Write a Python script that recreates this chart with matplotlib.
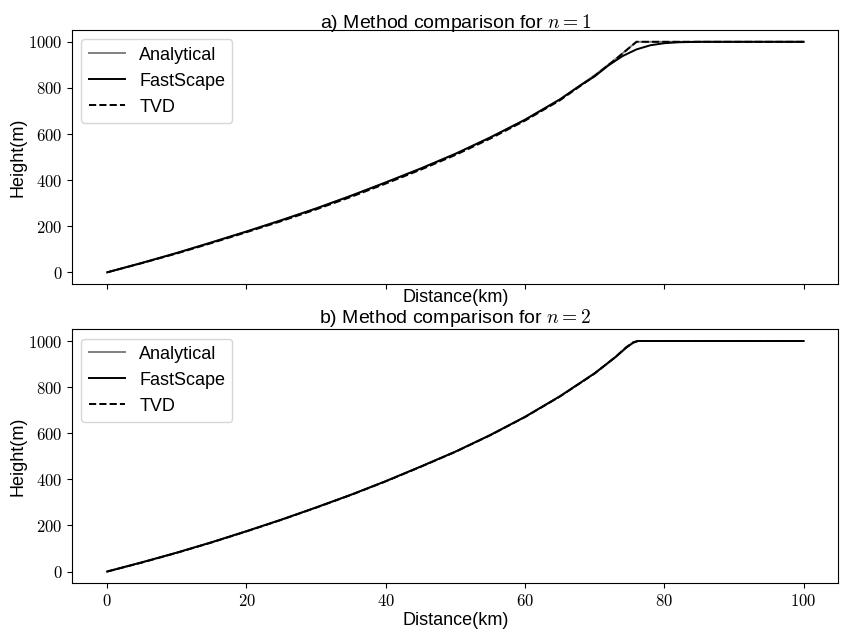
import matplotlib
matplotlib.use("Agg")
import matplotlib.pyplot as plt
from matplotlib.ticker import FuncFormatter

plt.rcParams['font.family'] = ['Liberation Sans', 'DejaVu Sans']
plt.rcParams['mathtext.fontset'] = 'cm'

# distance along profile (km)
dist = [0, 5, 10, 15, 20, 25, 30, 35, 40, 45, 50, 55, 60, 65, 70, 73, 76, 80, 85, 90, 95, 100]

# n = 1
ana_1 = [0, 41, 84, 130, 177, 226, 277, 332, 390, 450, 514, 585, 662, 750, 855, 925, 1000, 1000, 1000, 1000, 1000, 1000]
tvd_1 = [0, 40, 82, 127, 174, 222, 273, 327, 385, 445, 509, 580, 658, 746, 852, 924, 1000, 1000, 1000, 1000, 1000, 1000]
dist_fs = [0, 5, 10, 15, 20, 25, 30, 35, 40, 45, 50, 55, 60, 65, 68, 70, 72, 74, 76, 78, 80, 82, 85, 90, 95, 100]
fs_1 = [0, 41, 84, 130, 177, 226, 277, 332, 390, 450, 514, 585, 662, 750, 812, 850, 898, 938, 967, 985, 994, 998, 1000, 1000, 1000, 1000]

# n = 2
dist_2 = [0, 5, 10, 15, 20, 25, 30, 35, 40, 45, 50, 55, 60, 65, 70, 73, 74.5, 75.5, 76.2, 80, 85, 90, 95, 100]
ana_2 = [0, 40, 82, 127, 175, 225, 278, 333, 392, 455, 520, 592, 671, 760, 860, 932, 972, 993, 1000, 1000, 1000, 1000, 1000, 1000]
fs_2 = [0, 40, 82, 127, 175, 225, 278, 333, 392, 455, 520, 592, 671, 760, 860, 930, 970, 992, 1000, 1000, 1000, 1000, 1000, 1000]
tvd_2 = [0, 39, 81, 126, 174, 224, 277, 332, 391, 454, 519, 591, 670, 759, 859, 931, 972, 994, 1000, 1000, 1000, 1000, 1000, 1000]

fig, (ax1, ax2) = plt.subplots(2, 1, sharex=True, figsize=(8.52, 6.31), dpi=100)
fig.subplots_adjust(left=0.085, right=0.984, top=0.952, bottom=0.076, hspace=0.18)

mathfmt = FuncFormatter(lambda v, p: r"$%g$" % v)

panels = [
    (ax1, dist, ana_1, dist_fs, fs_1, dist, tvd_1, "a) Method comparison for $n=1$"),
    (ax2, dist_2, ana_2, dist_2, fs_2, dist_2, tvd_2, "b) Method comparison for $n=2$"),
]
for ax, xa, ya, xf, yf, xt, yt, title in panels:
    ax.plot(xa, ya, color="grey", lw=1.4, label="Analytical")
    ax.plot(xf, yf, color="black", lw=1.4, label="FastScape")
    ax.plot(xt, yt, color="black", lw=1.4, ls="--", label="TVD")
    ax.set_title(title, fontsize=14, pad=2)
    ax.set_ylabel("Height(m)", fontsize=13, labelpad=1)
    ax.legend(loc="upper left", fontsize=13)
    ax.xaxis.set_major_formatter(mathfmt)
    ax.yaxis.set_major_formatter(mathfmt)
    ax.tick_params(labelsize=12)
    ax.set_xticks([0, 20, 40, 60, 80, 100])
    ax.set_yticks([0, 200, 400, 600, 800, 1000])

ax1.set_xlabel("Distance(km)", fontsize=13, labelpad=0)
ax2.set_xlabel("Distance(km)", fontsize=13, labelpad=2)

plt.savefig("out.png", dpi=100)
